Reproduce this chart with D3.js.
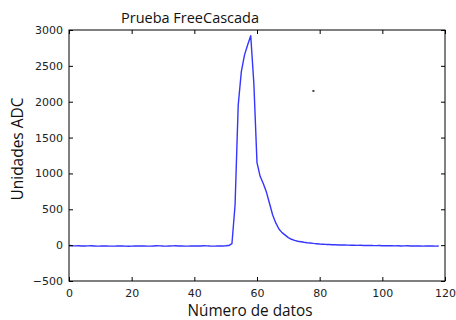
<!DOCTYPE html>
<html>
<head>
<meta charset="utf-8">
<script src="https://cdn.jsdelivr.net/npm/d3@7"></script>
<style>
  html, body { margin: 0; padding: 0; background: #fff; }
  svg { display: block; }
</style>
</head>
<body>
<svg id="chart" width="456" height="320"></svg>
<script>
// ---- data ----
const title = "Prueba FreeCascada";
const xLabel = "Número de datos";
const yLabel = "Unidades ADC";
const xTicks = [0, 20, 40, 60, 80, 100, 120];
const yTicks = [-500, 0, 500, 1000, 1500, 2000, 2500, 3000];
const xDomain = [0, 120];
const yDomain = [-500, 3000];
// ADC values, one per sample index 0..118
const adcValues = [
  -5,-8,-10,-9,-11,-12,-10,-9,-11,-13,
  -12,-10,-11,-14,-13,-12,-10,-11,-13,-15,
  -14,-12,-11,-10,-12,-14,-13,-11,-9,-10,
  -12,-13,-11,-10,-9,-11,-12,-14,-13,-11,
  -10,-12,-11,-9,-10,-12,-13,-12,-10,-11,
  -9,-6,
  20,560,1950,2420,2650,2790,2920,2250,1150,960,
  860,740,580,420,310,225,175,140,105,82,
  66,55,47,40,34,29,24,20,16,13,
  10,8,6,5,3,2,1,0,-1,-2,
  -3,-2,-4,-5,-4,-6,-7,-6,-8,-7,
  -9,-8,-10,-9,-11,-10,-9,-11,-12,-10,
  -11,-13,-12,-11,-12,-13,-12
];
const stray = [{x: 78, y: 2150}];

// ---- layout ----
const svg = d3.select("#chart");
const L = 69, R = 445, T = 30, B = 281;
const x = d3.scaleLinear().domain(xDomain).range([L, R]);
const y = d3.scaleLinear().domain(yDomain).range([B, T]);
const tickFont = "'DejaVu Sans', sans-serif";
const labelFont = "'Open Sans', sans-serif";

const data = adcValues.map((v, i) => ({x: i, y: v}));

// line
svg.append("path")
  .datum(data)
  .attr("fill", "none")
  .attr("stroke", "#3535ff")
  .attr("stroke-width", 1.4)
  .attr("stroke-linejoin", "round")
  .attr("d", d3.line().x(d => x(d.x)).y(d => y(d.y)));

// stray dot
svg.selectAll(".stray").data(stray).enter().append("rect")
  .attr("x", d => x(d.x) - 1).attr("y", d => y(d.y) - 1)
  .attr("width", 2).attr("height", 2).attr("fill", "#444");

// axes (ticks inward, all four sides)
function styleAxis(g) {
  g.select(".domain").remove();
  g.selectAll(".tick line").attr("stroke", "#000");
  g.selectAll(".tick text").attr("fill", "#222")
    .style("font-family", tickFont).style("font-size", "11px");
}
const fmt = d => d < 0 ? "\u2212" + Math.abs(d) : String(d);

svg.append("g").attr("transform", `translate(0,${B})`)
  .call(d3.axisBottom(x).tickValues(xTicks).tickFormat(fmt).tickSizeInner(-4).tickSizeOuter(0).tickPadding(8))
  .call(styleAxis);
svg.append("g").attr("transform", `translate(0,${T})`)
  .call(d3.axisTop(x).tickValues(xTicks).tickFormat("").tickSizeInner(-4).tickSizeOuter(0))
  .call(styleAxis);
svg.append("g").attr("transform", `translate(${L},0)`)
  .call(d3.axisLeft(y).tickValues(yTicks).tickFormat(fmt).tickSizeInner(-4).tickSizeOuter(0).tickPadding(6))
  .call(styleAxis);
svg.append("g").attr("transform", `translate(${R},0)`)
  .call(d3.axisRight(y).tickValues(yTicks).tickFormat("").tickSizeInner(-4).tickSizeOuter(0))
  .call(styleAxis);

// frame
svg.append("rect")
  .attr("x", L).attr("y", T).attr("width", R - L).attr("height", B - T)
  .attr("fill", "none").attr("stroke", "#000").attr("stroke-width", 1);

// title & labels
svg.append("text").attr("x", 121).attr("y", 23)
  .attr("textLength", 138).attr("lengthAdjust", "spacingAndGlyphs")
  .style("font-family", labelFont).style("font-size", "14px").attr("fill", "#111")
  .text(title);
svg.append("text").attr("x", 250).attr("y", 316).attr("text-anchor", "middle")
  .attr("textLength", 125).attr("lengthAdjust", "spacingAndGlyphs")
  .style("font-family", labelFont).style("font-size", "16px").attr("fill", "#111")
  .text(xLabel);
svg.append("text").attr("transform", "translate(23,149) rotate(-90)").attr("text-anchor", "middle")
  .attr("textLength", 103).attr("lengthAdjust", "spacingAndGlyphs")
  .style("font-family", labelFont).style("font-size", "16px").attr("fill", "#111")
  .text(yLabel);
</script>
</body>
</html>
